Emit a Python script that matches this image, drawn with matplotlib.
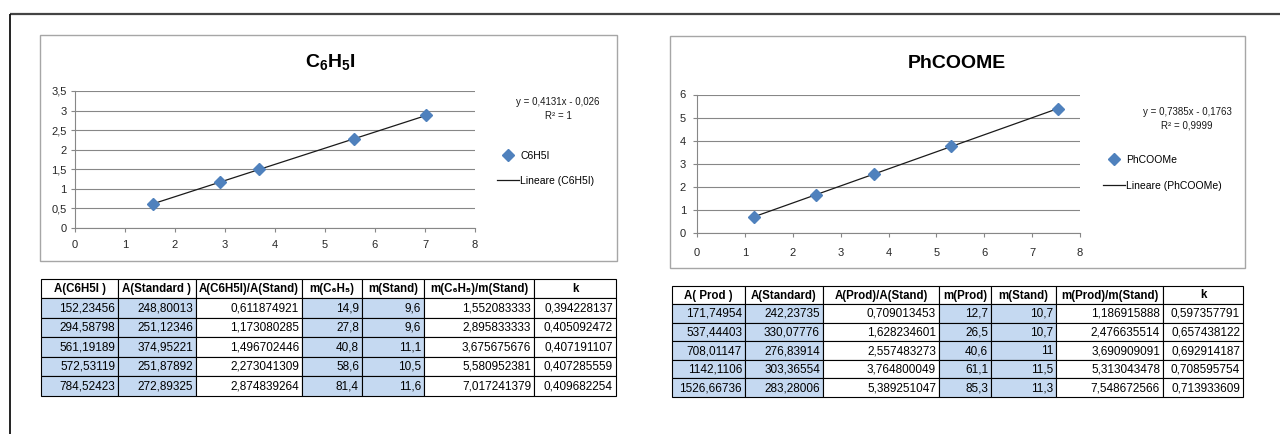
import numpy as np
import matplotlib.pyplot as plt
from matplotlib.patches import Rectangle

W, H = 1280, 434
plt.rcParams['font.family'] = ['Liberation Sans', 'DejaVu Sans']
plt.rcParams['mathtext.fontset'] = 'custom'
plt.rcParams['mathtext.rm'] = 'Liberation Sans'
plt.rcParams['mathtext.bf'] = 'Liberation Sans:bold'

BLUE = '#4F81BD'
CELL_BLUE = '#C5D9F1'
GRID = '#878787'

# --- table 1 : C6H5I ---
iodo_headers = ['A(C6H5I )', 'A(Standard )', 'A(C6H5I)/A(Stand)', 'm(C\u2086H\u2085)', 'm(Stand)',
                'm(C\u2086H\u2085)/m(Stand)', 'k']
iodo_a_sample = ['152,23456', '294,58798', '561,19189', '572,53119', '784,52423']
iodo_a_std = ['248,80013', '251,12346', '374,95221', '251,87892', '272,89325']
iodo_a_ratio = ['0,611874921', '1,173080285', '1,496702446', '2,273041309', '2,874839264']
iodo_m_sample = ['14,9', '27,8', '40,8', '58,6', '81,4']
iodo_m_std = ['9,6', '9,6', '11,1', '10,5', '11,6']
iodo_m_ratio = ['1,552083333', '2,895833333', '3,675675676', '5,580952381', '7,017241379']
iodo_k = ['0,394228137', '0,405092472', '0,407191107', '0,407285559', '0,409682254']
iodo_eq = 'y = 0,4131x - 0,026\nR\u00b2 = 1'

# --- table 2 : PhCOOMe ---
prod_headers = ['A( Prod )', 'A(Standard)', 'A(Prod)/A(Stand)', 'm(Prod)', 'm(Stand)',
                'm(Prod)/m(Stand)', 'k']
prod_a_sample = ['171,74954', '537,44403', '708,01147', '1142,1106', '1526,66736']
prod_a_std = ['242,23735', '330,07776', '276,83914', '303,36554', '283,28006']
prod_a_ratio = ['0,709013453', '1,628234601', '2,557483273', '3,764800049', '5,389251047']
prod_m_sample = ['12,7', '26,5', '40,6', '61,1', '85,3']
prod_m_std = ['10,7', '10,7', '11', '11,5', '11,3']
prod_m_ratio = ['1,186915888', '2,476635514', '3,690909091', '5,313043478', '7,548672566']
prod_k = ['0,597357791', '0,657438122', '0,692914187', '0,708595754', '0,713933609']
prod_eq = 'y = 0,7385x - 0,1763\nR\u00b2 = 0,9999'


def num(vals):
    return np.array([float(v.replace(',', '.')) for v in vals])


def frac_rect(x0, y0, x1, y1):
    return [x0 / W, 1 - y1 / H, (x1 - x0) / W, (y1 - y0) / H]


fig = plt.figure(figsize=(W / 100, H / 100), dpi=100)
over = fig.add_axes([0, 0, 1, 1])
over.set_xlim(0, W)
over.set_ylim(H, 0)
over.axis('off')

# page frame
over.plot([10, W], [14, 14], color='#444444', lw=1.6, solid_capstyle='butt')
over.plot([10, 10], [14, H], color='#111111', lw=1.3, solid_capstyle='butt')


def draw_chart(box, plot, xs, ys, ymax, ystep, label, title, title_xy, eq, eq_xy, leg_xy, xpad, ypad, lspace):
    over.add_patch(Rectangle((box[0], box[1]), box[2] - box[0], box[3] - box[1],
                             fc='white', ec='#A6A6A6', lw=1))
    ax = fig.add_axes(frac_rect(*plot))
    ax.set_facecolor('none')
    ax.set_xlim(0, 8)
    ax.set_ylim(0, ymax)
    xt = np.arange(0, 9)
    yt = np.arange(0, ymax + ystep / 2, ystep)
    ax.set_xticks(xt)
    ax.set_yticks(yt)
    ax.set_xticklabels([f'{v:g}'.replace('.', ',') for v in xt])
    ax.set_yticklabels([f'{v:g}'.replace('.', ',') for v in yt])
    ax.grid(axis='y', color=GRID, lw=0.8)
    ax.set_axisbelow(True)
    for s in ['top', 'right']:
        ax.spines[s].set_visible(False)
    for s in ['left', 'bottom']:
        ax.spines[s].set_color(GRID)
        ax.spines[s].set_linewidth(0.8)
    ax.tick_params(axis='x', length=3, width=0.8, color=GRID, labelsize=8, labelcolor='#262626', pad=xpad)
    ax.tick_params(axis='y', length=3, width=0.8, color=GRID, labelsize=8, labelcolor='#262626', pad=ypad)

    slope, icpt = np.polyfit(xs, ys, 1)
    fx = np.array([xs.min(), xs.max()])
    trend, = ax.plot(fx, slope * fx + icpt, color='#1a1a1a', lw=0.9, label=f'Lineare ({label})', zorder=2)
    pts, = ax.plot(xs, ys, 'D', color=BLUE, ms=6.3, mec=BLUE, label=label, zorder=3, clip_on=False)

    fig.text(title_xy[0] / W, 1 - title_xy[1] / H, title, ha='center', va='center',
             fontsize=14, fontweight='bold')
    fig.text(eq_xy[0] / W, 1 - eq_xy[1] / H, eq, ha='center', va='top', fontsize=7,
             multialignment='center', linespacing=1.45, color='#1a1a1a')
    fig.legend(handles=[pts, trend], loc='upper left', bbox_to_anchor=(leg_xy[0] / W, 1 - leg_xy[1] / H),
               frameon=False, fontsize=7.5, handlelength=2.1, handletextpad=0.15, labelspacing=lspace,
               borderpad=0, borderaxespad=0, numpoints=1)


def draw_table(cols, top, head_h, row_h, headers, columns, shaded):
    for j, head in enumerate(headers):
        x0, x1 = cols[j], cols[j + 1]
        over.add_patch(Rectangle((x0, top), x1 - x0, head_h, fc='white', ec='black', lw=0.8))
        over.text((x0 + x1) / 2, top + head_h / 2 + 0.5, head, ha='center', va='center',
                  fontsize=8.3, fontweight='bold')
        for i, val in enumerate(columns[j]):
            y0 = top + head_h + i * row_h
            fc = CELL_BLUE if j in shaded else 'white'
            over.add_patch(Rectangle((x0, y0), x1 - x0, row_h, fc=fc, ec='black', lw=0.8))
            over.text(x1 - 3, y0 + row_h / 2 + 0.5, val, ha='right', va='center', fontsize=8.5)


draw_chart((40, 35, 617, 261), (75, 91, 475, 228), num(iodo_m_ratio), num(iodo_a_ratio), 3.5, 0.5,
           'C6H5I', r'$\mathbf{C_6H_5I}$', (330, 62), iodo_eq, (558, 97), (497, 151), 6, 3, 1.45)
draw_chart((670, 36, 1245, 268), (697, 94.5, 1080, 233), num(prod_m_ratio), num(prod_a_ratio), 6, 1,
           'PhCOOMe', 'PhCOOME', (957, 64), prod_eq, (1187, 107), (1103, 155), 8, 5, 1.55)

draw_table([41, 118, 196, 302, 362, 424, 534, 616], 279, 19, 19.5, iodo_headers,
           [iodo_a_sample, iodo_a_std, iodo_a_ratio, iodo_m_sample, iodo_m_std, iodo_m_ratio, iodo_k],
           {0, 1, 3, 4})
draw_table([672, 745, 823, 939, 991, 1056, 1163, 1243], 286, 18, 18.6, prod_headers,
           [prod_a_sample, prod_a_std, prod_a_ratio, prod_m_sample, prod_m_std, prod_m_ratio, prod_k],
           {0, 1, 3, 4})

fig.savefig('out.png', dpi=100)
